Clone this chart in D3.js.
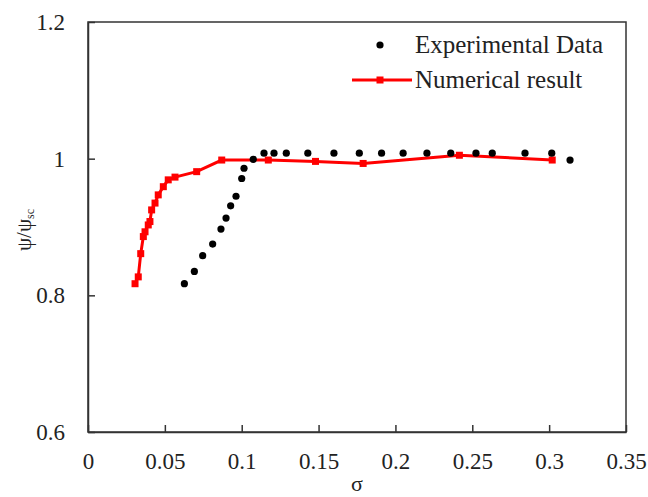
<!DOCTYPE html>
<html>
<head>
<meta charset="utf-8">
<script src="https://cdn.jsdelivr.net/npm/d3@7"></script>
<style>
  body { margin: 0; background: #fff; }
  svg { display: block; }
  text { font-family: "Liberation Serif", "Times New Roman", serif; fill: #222; }
</style>
</head>
<body>
<div class="container"></div>
<script>
const w = 648;
const h = 497;
const margin = { left: 88, right: 22, top: 22, bottom: 65 };

// numerical result (red line with square markers)
const numSigma = [0.0306, 0.0327, 0.0343, 0.036, 0.0371, 0.0392, 0.0403, 0.0414, 0.0436, 0.0457,
  0.049, 0.0522, 0.0566, 0.0707, 0.087, 0.1173, 0.148, 0.179, 0.2416, 0.302];
const numPsi = [0.817, 0.827, 0.861, 0.886, 0.893, 0.903, 0.908, 0.925, 0.935, 0.947,
  0.959, 0.969, 0.973, 0.981, 0.998, 0.998, 0.996, 0.993, 1.005, 0.998];

// experimental data (black dots)
const expSigma = [0.0627, 0.0692, 0.0746, 0.0811, 0.0865, 0.0898, 0.0928, 0.0963, 0.1, 0.1015,
  0.1075, 0.1145, 0.121, 0.129, 0.143, 0.16, 0.1765, 0.191, 0.205, 0.2205,
  0.236, 0.2524, 0.263, 0.2843, 0.3017, 0.3136];
const expPsi = [0.817, 0.835, 0.858, 0.875, 0.897, 0.913, 0.931, 0.945, 0.971, 0.986,
  0.999, 1.008, 1.008, 1.008, 1.008, 1.008, 1.008, 1.008, 1.008, 1.008,
  1.008, 1.008, 1.008, 1.008, 1.008, 0.998];

const xTicks = [0, 0.05, 0.1, 0.15, 0.2, 0.25, 0.3, 0.35];
const xTickLabels = ["0", "0.05", "0.1", "0.15", "0.2", "0.25", "0.3", "0.35"];
const yTicks = [0.6, 0.8, 1.0, 1.2];
const yTickLabels = ["0.6", "0.8", "1", "1.2"];

const svg = d3.select(".container")
  .append("svg")
  .attr("width", w)
  .attr("height", h);

const xScale = d3.scaleLinear()
  .domain([0, 0.35])
  .range([margin.left, w - margin.right]);
const yScale = d3.scaleLinear()
  .domain([0.6, 1.2])
  .range([h - margin.bottom, margin.top]);

// frame
svg.append("rect")
  .attr("x", xScale(0))
  .attr("y", yScale(1.2))
  .attr("width", xScale(0.35) - xScale(0))
  .attr("height", yScale(0.6) - yScale(1.2))
  .attr("fill", "none")
  .attr("stroke", "#333")
  .attr("stroke-width", 1.5);

const xAxis = d3.axisBottom(xScale)
  .tickValues(xTicks)
  .tickFormat((d, i) => xTickLabels[i])
  .tickSizeInner(-7)
  .tickSizeOuter(0)
  .tickPadding(21);
const yAxis = d3.axisLeft(yScale)
  .tickValues(yTicks)
  .tickFormat((d, i) => yTickLabels[i])
  .tickSizeInner(-7)
  .tickSizeOuter(0)
  .tickPadding(23);

const gx = svg.append("g")
  .attr("transform", "translate(0," + yScale(0.6) + ")")
  .call(xAxis);
const gy = svg.append("g")
  .attr("transform", "translate(" + xScale(0) + ",0)")
  .call(yAxis);

[gx, gy].forEach(g => {
  g.select(".domain").attr("stroke", "#333").attr("stroke-width", 1.5);
  g.selectAll(".tick line").attr("stroke", "#333").attr("stroke-width", 1.5);
  g.selectAll(".tick text")
    .attr("font-family", "Liberation Serif, serif")
    .attr("font-size", 23)
    .attr("fill", "#222");
});

// axis titles
svg.append("text")
  .attr("x", 357)
  .attr("y", 491)
  .attr("text-anchor", "middle")
  .attr("font-size", 22)
  .text("σ");

const yl = svg.append("text")
  .attr("transform", "translate(31,230) rotate(-90)")
  .attr("text-anchor", "middle")
  .attr("font-size", 21);
yl.append("tspan").text("ψ/ψ");
yl.append("tspan").attr("font-size", 12).attr("dy", 3).text("sc");

// numerical line
const line = d3.line()
  .x((d, i) => xScale(numSigma[i]))
  .y(d => yScale(d));

svg.append("path")
  .datum(numPsi)
  .attr("d", line)
  .attr("fill", "none")
  .attr("stroke", "#ff0000")
  .attr("stroke-width", 3);

svg.selectAll(".num")
  .data(numPsi)
  .enter()
  .append("rect")
  .attr("class", "num")
  .attr("x", (d, i) => xScale(numSigma[i]) - 3.5)
  .attr("y", d => yScale(d) - 3.5)
  .attr("width", 7)
  .attr("height", 7)
  .attr("fill", "#ff0000");

// experimental dots
svg.selectAll(".exp")
  .data(expPsi)
  .enter()
  .append("circle")
  .attr("class", "exp")
  .attr("cx", (d, i) => xScale(expSigma[i]))
  .attr("cy", d => yScale(d))
  .attr("r", 3.6)
  .attr("fill", "#000");

// legend
const legend = svg.append("g");
legend.append("circle")
  .attr("cx", 380).attr("cy", 45).attr("r", 3.6).attr("fill", "#000");
legend.append("text")
  .attr("x", 415).attr("y", 53)
  .attr("font-size", 25)
  .text("Experimental Data");
legend.append("line")
  .attr("x1", 352).attr("x2", 412).attr("y1", 80).attr("y2", 80)
  .attr("stroke", "#ff0000").attr("stroke-width", 3);
legend.append("rect")
  .attr("x", 376.5).attr("y", 76.5).attr("width", 7).attr("height", 7)
  .attr("fill", "#ff0000");
legend.append("text")
  .attr("x", 415).attr("y", 88)
  .attr("font-size", 25)
  .text("Numerical result");
</script>
</body>
</html>
